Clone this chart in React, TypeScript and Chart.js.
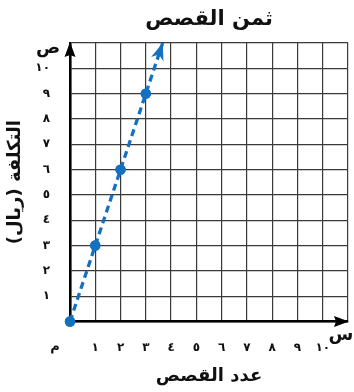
import React, { useEffect, useRef } from "react";
import { Chart, registerables } from "chart.js";

Chart.register(...registerables);

const TITLE = "ثمن القصص";
const X_TITLE = "عدد القصص";
const Y_TITLE = "التكلفة (ريال)";
const X_VAR = "س";
const Y_VAR = "ص";
const ORIGIN = "م";
const STORIES = [0, 1, 2, 3];
const COST = [0, 3, 6, 9];
const ARROW_END = { x: 11 / 3, y: 11 };
const AXIS_MIN = 0;
const AXIS_MAX = 11;
const LABEL_MIN = 1;
const LABEL_MAX = 10;
const DIGITS = "٠١٢٣٤٥٦٧٨٩";

const BLUE = "#1670c0";
const FONT = "'DejaVu Sans', sans-serif";

const toArabic = (n: number) =>
  String(n)
    .split("")
    .map((c) => DIGITS[Number(c)] ?? c)
    .join("");

function head(ctx: CanvasRenderingContext2D, tx: number, ty: number, angle: number, len: number, half: number, notch: number, color: string) {
  ctx.save();
  ctx.translate(tx, ty);
  ctx.rotate(angle);
  ctx.beginPath();
  ctx.moveTo(0, 0);
  ctx.lineTo(-len, -half);
  ctx.lineTo(-len + notch, 0);
  ctx.lineTo(-len, half);
  ctx.closePath();
  ctx.fillStyle = color;
  ctx.fill();
  ctx.restore();
}

const decorPlugin = {
  id: "decor",
  afterDraw(chart: any) {
    const { ctx, chartArea } = chart;
    const xs = chart.scales.x;
    const ys = chart.scales.y;
    const ox = xs.getPixelForValue(0);
    const oy = ys.getPixelForValue(0);
    // axis arrows
    head(ctx, chartArea.right + 1, oy, 0, 15, 5.5, 2, "#000");
    head(ctx, ox, chartArea.top - 1, -Math.PI / 2, 15, 5.5, 2, "#000");
    // data line arrow
    const lx = xs.getPixelForValue(STORIES[STORIES.length - 1]);
    const ly = ys.getPixelForValue(COST[COST.length - 1]);
    const tx = xs.getPixelForValue(ARROW_END.x);
    const ty = ys.getPixelForValue(ARROW_END.y);
    head(ctx, tx, ty, Math.atan2(ty - ly, tx - lx), 17, 6.5, 5, BLUE);
    // redraw points on top
    ctx.save();
    ctx.fillStyle = BLUE;
    for (let i = 0; i < STORIES.length; i++) {
      ctx.beginPath();
      ctx.arc(xs.getPixelForValue(STORIES[i]), ys.getPixelForValue(COST[i]), 5.2, 0, Math.PI * 2);
      ctx.fill();
    }
    // variable labels
    ctx.fillStyle = "#111";
    ctx.textAlign = "center";
    ctx.textBaseline = "middle";
    ctx.font = `bold 18px ${FONT}`;
    ctx.fillText(Y_VAR, ox - 22, chartArea.top + 5);
    ctx.fillText(X_VAR, chartArea.right - 7, oy + 14);
    ctx.font = `bold 13px ${FONT}`;
    ctx.fillText(ORIGIN, ox - 15, oy + 25);
    ctx.restore();
  },
};

export default function App() {
  const ref = useRef<HTMLCanvasElement | null>(null);

  useEffect(() => {
    document.body.style.margin = "0";
    const canvas = ref.current;
    if (!canvas) return;
    const tickCb = (v: any) => {
      const n = Number(v);
      return n >= LABEL_MIN && n <= LABEL_MAX ? toArabic(n) : "";
    };
    const points = STORIES.map((s, i) => ({ x: s, y: COST[i] }));
    points.push({ x: ARROW_END.x, y: ARROW_END.y });
    const chart = new Chart(canvas, {
      type: "line",
      data: {
        datasets: [
          {
            data: points,
            borderColor: BLUE,
            backgroundColor: BLUE,
            borderWidth: 3.3,
            borderDash: [7, 4.5],
            pointRadius: points.map((_, i) => (i < STORIES.length ? 5.2 : 0)),
            pointBorderWidth: 0,
            tension: 0,
            clip: false as any,
          },
        ],
      },
      options: {
        animation: false,
        responsive: true,
        maintainAspectRatio: false,
        layout: { padding: { left: 0, right: 6, top: 0, bottom: 0 } },
        plugins: {
          legend: { display: false },
          tooltip: { enabled: false },
          title: {
            display: true,
            text: TITLE,
            fullSize: false,
            color: "#111",
            font: { family: FONT, size: 21, weight: "bold" },
            padding: { top: 7, bottom: 10.8 },
          },
        },
        scales: {
          x: {
            type: "linear",
            min: AXIS_MIN,
            max: AXIS_MAX,
            afterFit: (s: any) => {
              s.height = 70.5;
              s.paddingLeft = 0;
              s.paddingRight = 0;
            },
            ticks: {
              stepSize: 1,
              autoSkip: false,
              maxRotation: 0,
              callback: tickCb,
              color: "#111",
              padding: 19,
              font: { family: FONT, size: 12, weight: "bold" },
            },
            grid: { color: "#3a3a3a", lineWidth: 1.2, drawTicks: false },
            border: { color: "#000", width: 2.6 },
            title: {
              display: true,
              text: X_TITLE,
              color: "#111",
              font: { family: FONT, size: 18, weight: "bold" },
              padding: { top: 0, bottom: 4.5 },
            },
          },
          y: {
            type: "linear",
            min: AXIS_MIN,
            max: AXIS_MAX,
            afterFit: (s: any) => {
              s.width = 70;
              s.paddingTop = 0;
              s.paddingBottom = 0;
            },
            ticks: {
              stepSize: 1,
              autoSkip: false,
              callback: tickCb,
              color: "#111",
              padding: 20,
              font: { family: FONT, size: 12, weight: "bold" },
            },
            grid: { color: "#3a3a3a", lineWidth: 1.2, drawTicks: false },
            border: { color: "#000", width: 2.6 },
            title: {
              display: true,
              text: Y_TITLE,
              color: "#111",
              font: { family: FONT, size: 18, weight: "bold" },
              padding: { top: 4.2, bottom: 0 },
            },
          },
        },
      },
      plugins: [decorPlugin],
    });
    return () => chart.destroy();
  }, []);

  return (
    <div style={{ position: "absolute", left: 0, top: 0, width: 354, height: 392, direction: "rtl" }}>
      <canvas ref={ref} dir="rtl" />
    </div>
  );
}
